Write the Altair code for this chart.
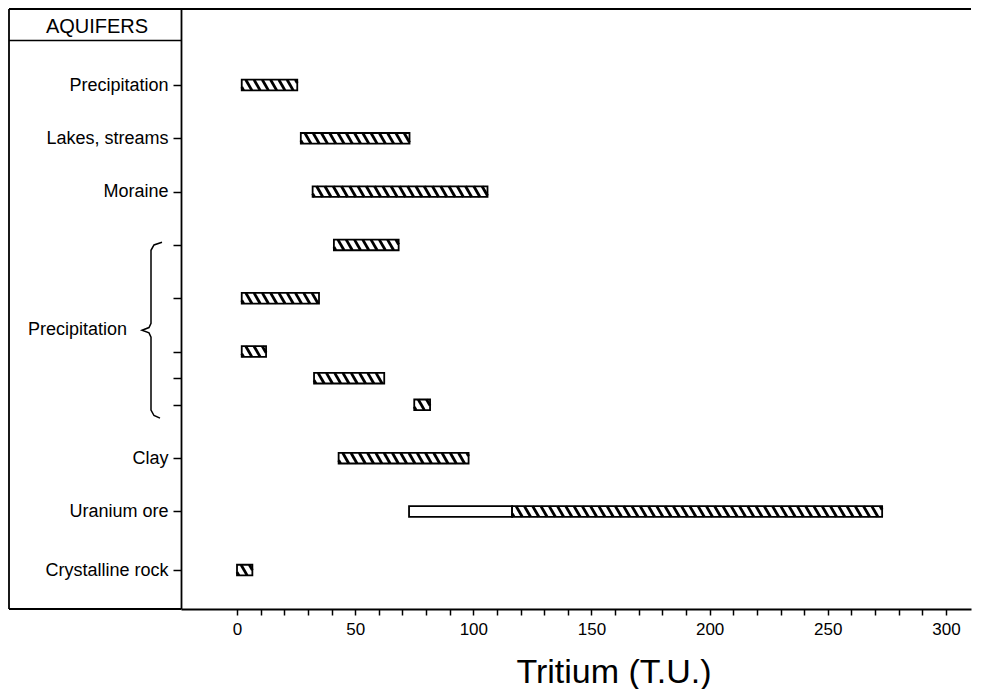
import altair as alt
import pandas as pd

# ---------------- data ----------------
row_pos = [1, 2, 3, 4, 5, 6, 6.5, 7, 8, 9, 10.1]
row_labels = ["Precipitation", "Lakes, streams", "Moraine", "", "", "", "", "",
              "Clay", "Uranium ore", "Crystalline rock"]

bar_row = [1, 2, 3, 4, 5, 6, 6.5, 7, 8, 9, 9, 10.1]
bar_lo = [2, 27, 32, 41, 2, 2, 32.6, 75, 43, 72.8, 116.4, 0]
bar_hi = [25.5, 73, 106, 68.4, 34.7, 12.3, 62.3, 81.7, 98, 116.4, 273, 6.5]
bar_hatched = [True, True, True, True, True, True, True, True, True, False, True, True]

group_label = "Precipitation"
group_span = [3.95, 7.25]          # rows covered by the brace

x_ticks = list(range(0, 301, 10))
x_title = "Tritium (T.U.)"
header = "AQUIFERS"

# ---------------- geometry / style ----------------
W, H = 790, 600
X_DOM = [-23.7, 310.6]
Y_DOM = [-0.426, 10.83]
HH = 0.1          # half bar height (row units)
SP = 3.5          # hatch spacing (x units)
RUN = 2.6         # hatch horizontal run (x units)
FONT = "Liberation Sans"

bars = pd.DataFrame({"row": bar_row, "lo": bar_lo, "hi": bar_hi, "hatched": bar_hatched})
bars["y1"] = bars["row"] - HH
bars["y2"] = bars["row"] + HH

segs = []
for r, lo, hi, h in zip(bar_row, bar_lo, bar_hi, bar_hatched):
    if not h:
        continue
    x0 = lo - RUN + 0.8
    while x0 < hi:
        xa, xb = x0, x0 + RUN
        ya, yb = r - HH, r + HH
        if xa < lo:
            t = (lo - xa) / RUN
            ya = ya + t * 2 * HH
            xa = lo
        if xb > hi:
            t = (xb - hi) / RUN
            yb = yb - t * 2 * HH
            xb = hi
        if xb > xa:
            segs.append({"lo": xa, "hi": xb, "y1": ya, "y2": yb})
        x0 += SP
hatch = pd.DataFrame(segs)

top, bot = group_span
mid = (top + bot) / 2
brace = pd.DataFrame({
    "bx": [-19, -27, -30, -30, -32, -39, -32, -30, -30, -27, -21],
    "y1": [top, top + 0.05, top + 0.15, mid - 0.13, mid - 0.05, mid, mid + 0.05, mid + 0.13,
           bot - 0.15, bot - 0.05, bot],
    "o": list(range(11)),
})

label_expr = " : ".join(
    [f"datum.value == {p} ? '{l}'" for p, l in zip(row_pos, row_labels)]) + " : ''"

xscale = alt.Scale(domain=X_DOM, nice=False, zero=False)
yscale = alt.Scale(domain=Y_DOM, nice=False, zero=False, reverse=True)

x_axis = alt.Axis(values=x_ticks, labelExpr="datum.value % 50 == 0 ? datum.label : ''",
                  tickSize=6, tickWidth=1.5, tickColor="black", domainColor="black",
                  domainWidth=1.8, labelFontSize=17, labelFont=FONT, labelColor="black",
                  labelPadding=6, grid=False, title=None)
y_axis = alt.Axis(values=row_pos, labelExpr=label_expr, tickSize=8, tickWidth=1.5,
                  tickColor="black", domainColor="black", domainWidth=1.8,
                  labelFontSize=18, labelFont=FONT, labelColor="black",
                  labelPadding=5, grid=False, title=None)

X = alt.X("lo:Q", scale=xscale, axis=x_axis)
Y = alt.Y("y1:Q", scale=yscale, axis=y_axis)

one = alt.Data(values=[{"a": 1}])

fill_layer = alt.Chart(bars).mark_rect(fill="white", stroke=None).encode(
    x=X, x2="hi:Q", y=Y, y2="y2:Q")

hatch_layer = alt.Chart(hatch).mark_rule(color="black", strokeWidth=2.8, strokeCap="butt").encode(
    x=X, x2="hi:Q", y=Y, y2="y2:Q")

border_layer = alt.Chart(bars).mark_rect(fill="white", fillOpacity=0, stroke="black",
                                         strokeWidth=1.8).encode(
    x=X, x2="hi:Q", y=Y, y2="y2:Q")

brace_layer = alt.Chart(brace).mark_line(color="black", strokeWidth=1.5).encode(
    x=alt.X("bx:Q", scale=None, axis=None),
    y=Y,
    order="o:Q",
)

group_text = alt.Chart(alt.Data(values=[{"t": group_label, "y1": mid}])).mark_text(
    align="right", baseline="middle", fontSize=18, font=FONT, color="black"
).encode(x=alt.value(-54), y=Y, text="t:N")

frame_top = alt.Chart(one).mark_rule(color="black", strokeWidth=1.8).encode(
    x=alt.value(-172), x2=alt.value(W), y=alt.value(0))
frame_left = alt.Chart(one).mark_rule(color="black", strokeWidth=1.8).encode(
    x=alt.value(-172), y=alt.value(0), y2=alt.value(H))
frame_bottom = alt.Chart(one).mark_rule(color="black", strokeWidth=1.8).encode(
    x=alt.value(-172), x2=alt.value(0), y=alt.value(H))
frame_header = alt.Chart(one).mark_rule(color="black", strokeWidth=1.5).encode(
    x=alt.value(-172), x2=alt.value(0), y=alt.value(31.5))

header_text = alt.Chart(alt.Data(values=[{"t": header}])).mark_text(
    align="center", baseline="middle", fontSize=20, font=FONT, color="black"
).encode(x=alt.value(-84), y=alt.value(17.5), text="t:N")

title_text = alt.Chart(alt.Data(values=[{"t": x_title}])).mark_text(
    align="center", baseline="alphabetic", fontSize=34, font=FONT, color="black"
).encode(x=alt.value(433), y=alt.value(674), text="t:N")

chart = alt.layer(
    fill_layer, hatch_layer, border_layer, brace_layer, group_text,
    frame_top, frame_left, frame_bottom, frame_header, header_text, title_text
).properties(
    width=W, height=H,
    padding={"left": 173, "top": 1, "right": 3, "bottom": 80},
    autosize=alt.AutoSizeParams(type="none"),
    background="white",
).configure_view(strokeWidth=0)

chart.save("out.html", embed_options={"renderer": "svg", "actions": False})
